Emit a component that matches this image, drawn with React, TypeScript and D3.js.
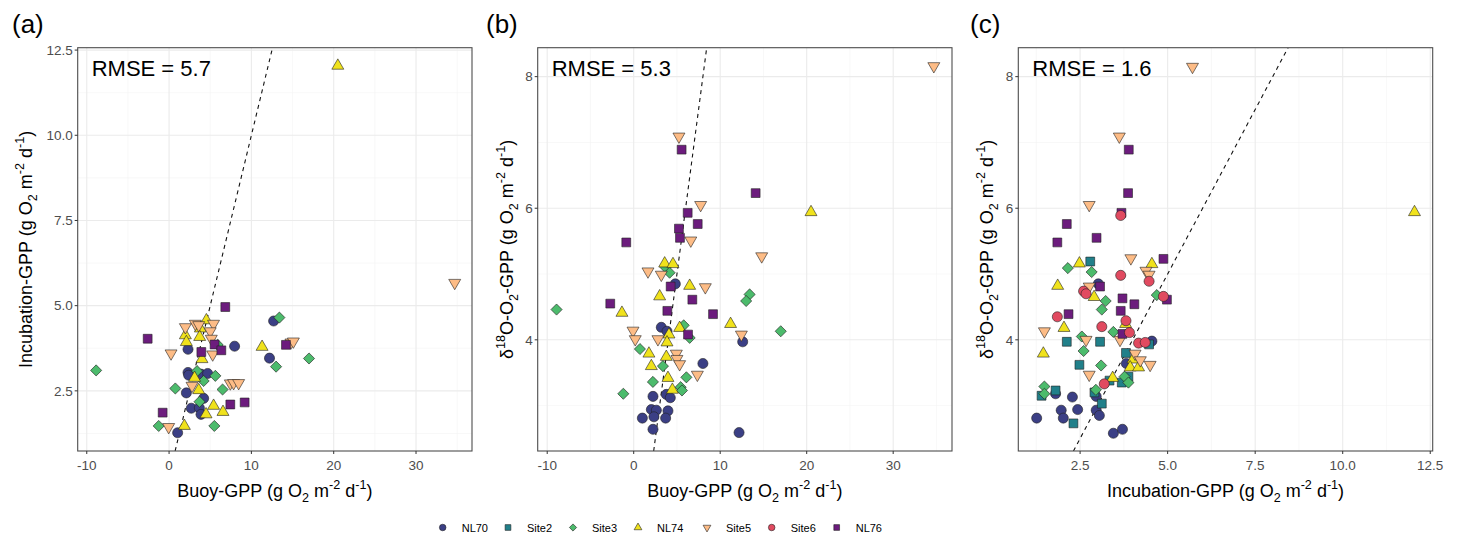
import React from 'react';
import * as d3 from 'd3';

type Pt = [string, number, number];
type Part = [string, string?];

const sites = ['NL70', 'Site2', 'Site3', 'NL74', 'Site5', 'Site6', 'NL76'];
const siteColors = ['#3b3f85', '#21808a', '#4cbb6c', '#f0e21c', '#fdbc86', '#e14a60', '#6c1c7d'];
const siteShapes = ['circle', 'square', 'diamond', 'up', 'down', 'circle', 'square'];

const buoyTicks = [-10, 0, 10, 20, 30];
const incubationTicks = [2.5, 5, 7.5, 10, 12.5];
const isotopeTicks = [4, 6, 8];
const rmseLabels = ['RMSE = 5.7', 'RMSE = 5.3', 'RMSE = 1.6'];
const panelLetters = ['(a)', '(b)', '(c)'];

// panel (a): Buoy-GPP vs Incubation-GPP
const buoyIncubation: Pt[] = [
  ['NL70', 1.04, 1.27], ['NL70', 2.7, 1.99], ['NL70', 3.68, 2.0], ['NL70', 3.88, 1.81], ['NL70', 4.2, 2.28],
  ['NL70', 2.1, 2.44], ['NL70', 2.3, 3.04], ['NL70', 2.38, 2.96], ['NL70', 3.88, 2.99], ['NL70', 4.69, 3.01],
  ['NL70', 2.3, 3.72], ['NL70', 7.96, 3.81], ['NL70', 12.2, 3.46], ['NL70', 12.7, 4.55],
  ['Site3', -8.86, 3.1], ['Site3', -1.26, 1.47], ['Site3', 0.76, 2.57], ['Site3', 3.4, 3.08], ['Site3', 4.2, 2.79],
  ['Site3', 3.7, 2.18], ['Site3', 5.62, 2.94], ['Site3', 5.5, 1.47], ['Site3', 6.5, 2.54], ['Site3', 5.9, 3.85],
  ['Site3', 13.4, 4.65], ['Site3', 13.0, 3.21], ['Site3', 17.0, 3.45],
  ['NL74', 20.5, 12.04], ['NL74', 4.53, 4.57], ['NL74', 3.8, 4.33], ['NL74', 1.98, 4.13], ['NL74', 2.1, 3.93],
  ['NL74', 3.72, 4.08], ['NL74', 4.0, 3.43], ['NL74', 3.1, 2.88], ['NL74', 3.6, 2.52], ['NL74', 4.49, 1.81],
  ['NL74', 5.41, 2.06], ['NL74', 6.55, 1.88], ['NL74', 1.86, 1.47], ['NL74', 11.3, 3.79],
  ['Site5', 34.7, 5.67], ['Site5', 3.19, 4.47], ['Site5', 3.6, 4.43], ['Site5', 1.98, 4.37], ['Site5', 5.4, 4.47],
  ['Site5', 5.0, 4.25], ['Site5', 5.13, 4.03], ['Site5', 0.24, 3.6], ['Site5', 5.3, 3.57], ['Site5', 2.79, 2.65],
  ['Site5', 7.44, 2.72], ['Site5', 7.84, 2.73], ['Site5', 8.45, 2.73], ['Site5', -0.05, 1.44], ['Site5', 14.8, 3.92],
  ['Site5', 15.1, 3.95],
  ['NL76', 6.83, 4.96], ['NL76', -2.6, 4.03], ['NL76', 3.92, 3.64], ['NL76', 5.53, 3.86], ['NL76', 6.35, 3.69],
  ['NL76', 7.44, 2.1], ['NL76', 9.18, 2.16], ['NL76', -0.78, 1.86], ['NL76', 14.2, 3.85],
];

// panel (b): Buoy-GPP vs d18O-O2-GPP
const buoyIsotope: Pt[] = [
  ['NL70', 4.81, 4.85], ['NL70', 3.19, 4.19], ['NL70', 3.85, 4.13], ['NL70', 12.6, 3.97], ['NL70', 8.0, 3.64],
  ['NL70', 2.23, 3.14], ['NL70', 3.77, 3.17], ['NL70', 4.23, 3.12], ['NL70', 2.04, 2.94], ['NL70', 2.62, 2.93],
  ['NL70', 3.96, 2.92], ['NL70', 1.0, 2.81], ['NL70', 2.34, 2.83], ['NL70', 3.69, 2.81], ['NL70', 2.23, 2.64],
  ['NL70', 12.18, 2.59],
  ['Site3', 3.69, 5.1], ['Site3', 4.15, 5.02], ['Site3', 13.4, 4.69], ['Site3', 13.0, 4.59], ['Site3', -8.92, 4.46],
  ['Site3', 17.0, 4.13], ['Site3', 5.78, 4.22], ['Site3', 6.47, 4.03], ['Site3', 0.72, 3.86], ['Site3', 3.38, 3.6],
  ['Site3', 6.09, 3.43], ['Site3', 2.22, 3.36], ['Site3', 5.43, 3.28], ['Site3', 5.58, 3.23], ['Site3', -1.2, 3.18],
  ['NL74', 20.5, 5.94], ['NL74', 3.58, 5.16], ['NL74', 4.54, 5.15], ['NL74', 6.47, 4.82], ['NL74', 3.0, 4.66],
  ['NL74', -1.36, 4.41], ['NL74', 11.2, 4.24], ['NL74', 5.31, 4.18], ['NL74', 4.08, 4.08], ['NL74', 3.85, 3.96],
  ['NL74', 1.76, 3.79], ['NL74', 3.77, 3.74], ['NL74', 2.04, 3.6], ['NL74', 3.96, 3.42], ['NL74', 4.47, 3.24],
  ['Site5', 34.7, 8.16], ['Site5', 5.23, 7.09], ['Site5', 7.74, 6.05], ['Site5', 6.6, 5.51], ['Site5', 14.8, 5.27],
  ['Site5', 1.65, 5.04], ['Site5', 3.19, 4.99], ['Site5', 8.28, 4.8], ['Site5', -0.08, 4.14], ['Site5', 0.18, 4.01],
  ['Site5', 2.8, 4.01], ['Site5', 12.45, 4.08], ['Site5', 4.93, 3.79], ['Site5', 5.0, 3.71], ['Site5', 5.31, 3.63],
  ['Site5', 7.36, 3.47],
  ['NL76', 5.54, 6.89], ['NL76', 14.1, 6.23], ['NL76', 6.24, 5.93], ['NL76', 7.4, 5.76], ['NL76', 5.23, 5.69],
  ['NL76', 5.35, 5.55], ['NL76', -0.86, 5.48], ['NL76', 4.27, 4.81], ['NL76', 6.78, 4.61], ['NL76', -2.71, 4.55],
  ['NL76', 3.89, 4.44], ['NL76', 9.17, 4.39], ['NL76', 6.28, 4.08],
];

// panel (c): Incubation-GPP vs d18O-O2-GPP
const incubationIsotope: Pt[] = [
  ['NL70', 3.02, 4.85], ['NL70', 4.55, 3.98], ['NL70', 3.82, 3.64], ['NL70', 1.8, 3.18], ['NL70', 2.28, 3.13],
  ['NL70', 2.96, 3.14], ['NL70', 1.96, 2.93], ['NL70', 2.02, 2.81], ['NL70', 2.43, 2.94], ['NL70', 2.96, 2.93],
  ['NL70', 3.05, 2.85], ['NL70', 1.26, 2.81], ['NL70', 3.45, 2.58], ['NL70', 3.71, 2.64],
  ['Site2', 2.79, 5.19], ['Site2', 2.12, 3.97], ['Site2', 3.07, 3.97], ['Site2', 4.47, 3.93], ['Site2', 3.81, 3.8],
  ['Site2', 2.48, 3.62], ['Site2', 3.34, 3.38], ['Site2', 3.69, 3.35], ['Site2', 3.88, 3.44], ['Site2', 2.91, 3.2],
  ['Site2', 1.4, 3.15], ['Site2', 1.8, 3.23], ['Site2', 3.12, 3.03], ['Site2', 2.31, 2.73],
  ['Site3', 2.15, 5.09], ['Site3', 2.83, 5.03], ['Site3', 3.23, 4.59], ['Site3', 4.69, 4.68], ['Site3', 3.12, 4.46],
  ['Site3', 3.45, 4.12], ['Site3', 2.55, 4.05], ['Site3', 2.6, 3.83], ['Site3', 3.1, 3.61], ['Site3', 3.77, 3.44],
  ['Site3', 3.88, 3.35], ['Site3', 2.95, 3.24], ['Site3', 1.48, 3.29], ['Site3', 1.48, 3.18],
  ['NL74', 12.05, 5.94], ['NL74', 4.55, 5.15], ['NL74', 2.48, 5.16], ['NL74', 1.86, 4.82], ['NL74', 2.9, 4.65],
  ['NL74', 3.8, 4.24], ['NL74', 2.04, 4.18], ['NL74', 1.45, 3.79], ['NL74', 4.01, 3.7], ['NL74', 3.93, 3.58],
  ['NL74', 4.17, 3.58], ['NL74', 3.43, 3.42],
  ['Site5', 5.71, 8.15], ['Site5', 3.62, 7.09], ['Site5', 2.76, 6.05], ['Site5', 3.95, 5.24], ['Site5', 4.38, 5.05],
  ['Site5', 4.47, 4.99], ['Site5', 2.76, 4.81], ['Site5', 1.48, 4.13], ['Site5', 2.67, 4.0], ['Site5', 3.64, 4.0],
  ['Site5', 4.07, 3.79], ['Site5', 4.22, 3.69], ['Site5', 4.5, 3.62], ['Site5', 2.76, 3.47],
  ['NL76', 3.89, 6.89], ['NL76', 3.87, 6.23], ['NL76', 3.68, 5.93], ['NL76', 2.12, 5.76], ['NL76', 2.97, 5.55],
  ['NL76', 1.85, 5.48], ['NL76', 4.88, 5.23], ['NL76', 3.07, 4.81], ['NL76', 3.71, 4.63], ['NL76', 4.98, 4.61],
  ['NL76', 4.05, 4.54], ['NL76', 3.66, 4.44], ['NL76', 2.17, 4.39], ['NL76', 3.71, 4.09],
  ['Site6', 3.66, 5.89], ['Site6', 3.66, 4.98], ['Site6', 4.47, 4.89], ['Site6', 2.6, 4.74], ['Site6', 2.67, 4.7],
  ['Site6', 4.88, 4.66], ['Site6', 1.85, 4.35], ['Site6', 3.81, 4.29], ['Site6', 3.12, 4.2], ['Site6', 3.91, 4.11],
  ['Site6', 4.17, 3.95], ['Site6', 4.36, 3.96], ['Site6', 3.19, 3.33],
];

const unitParts: Part[] = [['2', 'sub'], [' m'], ['-2', 'sup'], [' d'], ['-1', 'sup'], [')']];
const buoyTitle: Part[] = [['Buoy-GPP (g O'], ...unitParts];
const incubationTitle: Part[] = [['Incubation-GPP (g O'], ...unitParts];
const isotopeTitle: Part[] = [['δ'], ['18', 'sup'], ['O-O'], ['2', 'sub'], ['-GPP (g O'], ...unitParts];

const font = '"Liberation Sans", Arial, sans-serif';

function symbolPath(shape: string, size: number) {
  if (shape === 'circle') return d3.symbol(d3.symbolCircle, size)()!;
  if (shape === 'square' || shape === 'diamond') return d3.symbol(d3.symbolSquare, size)()!;
  return d3.symbol(d3.symbolTriangle, size)()!;
}

function Marker({ site, cx, cy, scale = 1 }: { site: string; cx: number; cy: number; scale?: number }) {
  const i = sites.indexOf(site);
  const shape = siteShapes[i];
  const sizes: any = { circle: 80, square: 78, diamond: 62, up: 62, down: 62 };
  const rot = shape === 'diamond' ? 45 : shape === 'down' ? 180 : 0;
  return (
    <path
      d={symbolPath(shape, sizes[shape] * scale)}
      transform={`translate(${cx},${cy}) rotate(${rot})`}
      fill={siteColors[i]}
      stroke="#222"
      strokeWidth={0.6}
    />
  );
}

function Rich({ parts, size }: { parts: Part[]; size: number }) {
  let shift = 0;
  return (
    <>
      {parts.map(([t, k], i) => {
        const target = k === 'sub' ? size * 0.28 : k === 'sup' ? -size * 0.42 : 0;
        const dy = target - shift;
        shift = target;
        return (
          <tspan key={i} dy={dy} fontSize={k ? size * 0.7 : size}>
            {t}
          </tspan>
        );
      })}
    </>
  );
}

function minorTicks(ticks: number[], domain: number[]) {
  const step = ticks[1] - ticks[0];
  const out: number[] = [];
  for (let i = -1; i < ticks.length; i++) {
    const v = ticks[0] + step * (i + 0.5);
    if (v > domain[0] && v < domain[1]) out.push(v);
  }
  return out;
}

function Panel(props: any) {
  const { id, left, right, top, bottom, xDomain, yDomain, xTicks, yTicks, xFmt, yFmt, points, letter, rmse, xTitle, yTitle, yTitleX } = props;
  const x = d3.scaleLinear().domain(xDomain).range([left, right]);
  const y = d3.scaleLinear().domain(yDomain).range([bottom, top]);
  const lo = Math.max(xDomain[0], yDomain[0]);
  const hi = Math.min(xDomain[1], yDomain[1]);
  const oneToOne = d3.line<number>().x((d) => x(d)).y((d) => y(d))([lo, hi]);
  const midX = (left + right) / 2;
  const midY = (top + bottom) / 2;

  return (
    <g fontFamily={font}>
      <defs>
        <clipPath id={id}>
          <rect x={left} y={top} width={right - left} height={bottom - top} />
        </clipPath>
      </defs>
      <rect x={left} y={top} width={right - left} height={bottom - top} fill="#fff" />
      {minorTicks(xTicks, xDomain).map((v) => (
        <line key={'mx' + v} x1={x(v)} x2={x(v)} y1={top} y2={bottom} stroke="#f3f3f3" strokeWidth={0.6} />
      ))}
      {minorTicks(yTicks, yDomain).map((v) => (
        <line key={'my' + v} x1={left} x2={right} y1={y(v)} y2={y(v)} stroke="#f3f3f3" strokeWidth={0.6} />
      ))}
      {xTicks.map((v: number) => (
        <line key={'gx' + v} x1={x(v)} x2={x(v)} y1={top} y2={bottom} stroke="#ebebeb" strokeWidth={1.1} />
      ))}
      {yTicks.map((v: number) => (
        <line key={'gy' + v} x1={left} x2={right} y1={y(v)} y2={y(v)} stroke="#ebebeb" strokeWidth={1.1} />
      ))}
      <path d={oneToOne!} clipPath={`url(#${id})`} stroke="#111" strokeWidth={1.1} strokeDasharray="4,4" fill="none" />
      <g clipPath={`url(#${id})`}>
        {points.map((p: Pt, i: number) => (
          <Marker key={i} site={p[0]} cx={x(p[1])} cy={y(p[2])} />
        ))}
      </g>
      <rect x={left} y={top} width={right - left} height={bottom - top} fill="none" stroke="#4d4d4d" strokeWidth={1.1} />
      {xTicks.map((v: number) => (
        <g key={'tx' + v}>
          <line x1={x(v)} x2={x(v)} y1={bottom} y2={bottom + 3} stroke="#333" />
          <text x={x(v)} y={bottom + 19} textAnchor="middle" fontSize={13.5} fill="#4d4d4d">{xFmt(v)}</text>
        </g>
      ))}
      {yTicks.map((v: number) => (
        <g key={'ty' + v}>
          <line x1={left - 3} x2={left} y1={y(v)} y2={y(v)} stroke="#333" />
          <text x={left - 5} y={y(v) + 4.8} textAnchor="end" fontSize={13.5} fill="#4d4d4d">{yFmt(v)}</text>
        </g>
      ))}
      <text x={midX} y={497} textAnchor="middle" fill="#000" style={{ whiteSpace: 'pre' }}>
        <Rich parts={xTitle} size={18} />
      </text>
      <text transform={`translate(${yTitleX + 6.5},${midY}) rotate(-90)`} textAnchor="middle" fill="#000" style={{ whiteSpace: 'pre' }}>
        <Rich parts={yTitle} size={18} />
      </text>
      <text x={left + 14} y={76} fontSize={22} fill="#000">{rmse}</text>
      <text x={props.letterX} y={33} fontSize={26} fill="#000">{letter}</text>
    </g>
  );
}

export default function App() {
  const top = 47.7;
  const bottom = 451;
  const buoyDomain = [-11.1, 36.8];
  const incDomain = [0.735, 12.57];
  const isoDomain = [2.31, 8.44];
  const plain = (v: number) => String(v);
  const oneDec = d3.format('.1f');
  const legendX = [442.7, 508, 573, 638, 707, 771.7, 836.7];

  return (
    <svg width={1458} height={540} style={{ position: 'absolute', left: 0, top: 0, background: '#fff' }}>
      <rect width={1458} height={540} fill="#fff" />
      <Panel id="clipA" left={77.7} right={472} top={top} bottom={bottom} xDomain={buoyDomain} yDomain={incDomain}
        xTicks={buoyTicks} yTicks={incubationTicks} xFmt={plain} yFmt={oneDec} points={buoyIncubation}
        letter={panelLetters[0]} letterX={12} rmse={rmseLabels[0]} xTitle={buoyTitle} yTitle={incubationTitle} yTitleX={25} />
      <Panel id="clipB" left={537.7} right={952} top={top} bottom={bottom} xDomain={buoyDomain} yDomain={isoDomain}
        xTicks={buoyTicks} yTicks={isotopeTicks} xFmt={plain} yFmt={plain} points={buoyIsotope}
        letter={panelLetters[1]} letterX={486} rmse={rmseLabels[1]} xTitle={buoyTitle} yTitle={isotopeTitle} yTitleX={506.5} />
      <Panel id="clipC" left={1018.3} right={1432.7} top={top} bottom={bottom} xDomain={incDomain} yDomain={isoDomain}
        xTicks={incubationTicks} yTicks={isotopeTicks} xFmt={oneDec} yFmt={plain} points={incubationIsotope}
        letter={panelLetters[2]} letterX={970} rmse={rmseLabels[2]} xTitle={incubationTitle} yTitle={isotopeTitle} yTitleX={986} />
      <g fontFamily={font}>
        {sites.map((s, i) => (
          <g key={s}>
            <Marker site={s} cx={legendX[i]} cy={527.5} scale={0.42} />
            <text x={legendX[i] + 19} y={531.5} fontSize={11} fill="#000">{s}</text>
          </g>
        ))}
      </g>
    </svg>
  );
}
